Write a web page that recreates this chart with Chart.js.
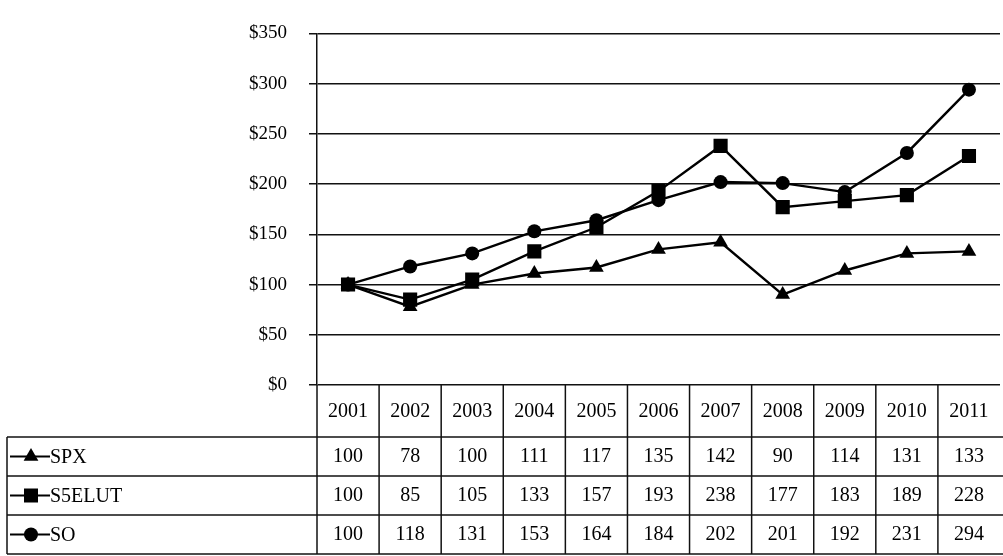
<!DOCTYPE html>
<html>
<head>
<meta charset="utf-8">
<script src="https://cdn.jsdelivr.net/npm/chart.js@4/dist/chart.umd.min.js"></script>
<style>
  html, body { margin: 0; padding: 0; background: #fff; overflow: hidden; }
  #wrap { position: relative; width: 1010px; height: 556px; }
</style>
</head>
<body>
<div id="wrap"><canvas id="line_chart"></canvas></div>
<script>
// DATA
const years = ["2001", "2002", "2003", "2004", "2005", "2006", "2007", "2008", "2009", "2010", "2011"];
const spx = [100, 78, 100, 111, 117, 135, 142, 90, 114, 131, 133];
const s5elut = [100, 85, 105, 133, 157, 193, 238, 177, 183, 189, 228];
const so = [100, 118, 131, 153, 164, 184, 202, 201, 192, 231, 294];
const seriesNames = ["SPX", "S5ELUT", "SO"];
const yTicks = [0, 50, 100, 150, 200, 250, 300, 350];

const FONT = "'Liberation Serif', 'Times New Roman', serif";
const HEADER_H = 52;
const ROW_H = 39;
const LEGEND_LEFT = 7;

function drawMarker(ctx, style, x, y) {
  ctx.beginPath();
  if (style === "triangle") {
    const r = 8.5;
    ctx.moveTo(x, y - r);
    ctx.lineTo(x + r * 0.866, y + r * 0.5);
    ctx.lineTo(x - r * 0.866, y + r * 0.5);
    ctx.closePath();
  } else if (style === "rect") {
    ctx.rect(x - 7, y - 7, 14, 14);
  } else {
    ctx.arc(x, y, 7, 0, Math.PI * 2);
  }
  ctx.fill();
}

// data table drawn under the plot, columns follow the x scale
const dataTable = {
  id: "dataTable",
  afterDraw(chart) {
    const ctx = chart.ctx;
    const area = chart.chartArea;
    const xs = chart.scales.x;
    const colW = xs.getPixelForValue(1) - xs.getPixelForValue(0);
    const top = area.bottom;
    const rowsTop = top + HEADER_H;
    const bottom = rowsTop + ROW_H * 3;
    const right = chart.width;

    ctx.save();
    ctx.strokeStyle = "#111";
    ctx.lineWidth = 1.5;

    // axis line continued down through table
    ctx.beginPath();
    ctx.moveTo(area.left, top);
    ctx.lineTo(area.left, bottom);
    ctx.stroke();

    // horizontal rules
    for (let r = 0; r <= 3; r++) {
      const y = rowsTop + r * ROW_H;
      ctx.beginPath();
      ctx.moveTo(LEGEND_LEFT, y);
      ctx.lineTo(right, y);
      ctx.stroke();
    }
    // legend box left edge
    ctx.beginPath();
    ctx.moveTo(LEGEND_LEFT, rowsTop);
    ctx.lineTo(LEGEND_LEFT, bottom);
    ctx.stroke();

    // column separators
    for (let i = 1; i < years.length; i++) {
      const x = xs.getPixelForValue(i) - colW / 2;
      ctx.beginPath();
      ctx.moveTo(x, top);
      ctx.lineTo(x, bottom);
      ctx.stroke();
    }

    ctx.fillStyle = "#000";
    ctx.font = "20px " + FONT;
    ctx.textAlign = "center";
    ctx.textBaseline = "middle";

    years.forEach((yr, i) => {
      ctx.fillText(yr, xs.getPixelForValue(i), top + HEADER_H / 2 + 1);
    });

    chart.data.datasets.forEach((ds, r) => {
      const cy = rowsTop + r * ROW_H + ROW_H / 2;
      ds.data.forEach((v, i) => {
        ctx.fillText(String(v), xs.getPixelForValue(i), cy);
      });
      // legend key
      ctx.lineWidth = 2;
      ctx.strokeStyle = "#000";
      ctx.beginPath();
      ctx.moveTo(LEGEND_LEFT + 3, cy);
      ctx.lineTo(LEGEND_LEFT + 43, cy);
      ctx.stroke();
      drawMarker(ctx, ds.pointStyle, LEGEND_LEFT + 24, cy);
      ctx.textAlign = "left";
      ctx.fillText(seriesNames[r], LEGEND_LEFT + 43, cy + 1);
      ctx.textAlign = "center";
    });

    ctx.restore();
  },
};

function makeSet(label, data, style, radius) {
  return {
    label: label,
    data: data,
    borderColor: "#000",
    backgroundColor: "#000",
    borderWidth: 2.4,
    pointStyle: style,
    pointRadius: radius,
    pointHoverRadius: radius,
    pointBorderWidth: 0,
    tension: 0,
  };
}

const ctx = document.getElementById("line_chart").getContext("2d");
const my_chart = new Chart(ctx, {
  type: "line",
  data: {
    labels: years,
    datasets: [
      makeSet(seriesNames[0], spx, "triangle", 8.5),
      makeSet(seriesNames[1], s5elut, "rect", 10),
      makeSet(seriesNames[2], so, "circle", 7),
    ],
  },
  options: {
    responsive: true,
    maintainAspectRatio: false,
    animation: false,
    events: [],
    layout: { padding: { left: 0, right: 0, top: 17, bottom: 171 } },
    plugins: { legend: { display: false }, tooltip: { enabled: false } },
    scales: {
      x: {
        type: "category",
        offset: true,
        display: false,
        grid: { display: false },
      },
      y: {
        min: 0,
        max: 350,
        afterFit: (scale) => { scale.width = 317; },
        afterBuildTicks: (scale) => { scale.ticks = yTicks.map((v) => ({ value: v })); },
        border: { display: true, color: "#111", width: 1.5 },
        grid: { color: "#111", lineWidth: 1.5, tickLength: 8, drawTicks: true },
        ticks: {
          padding: 22,
          color: "#000",
          font: { family: FONT, size: 19 },
          callback: (v) => "$" + v,
        },
      },
    },
  },
  plugins: [dataTable],
});
</script>
</body>
</html>
